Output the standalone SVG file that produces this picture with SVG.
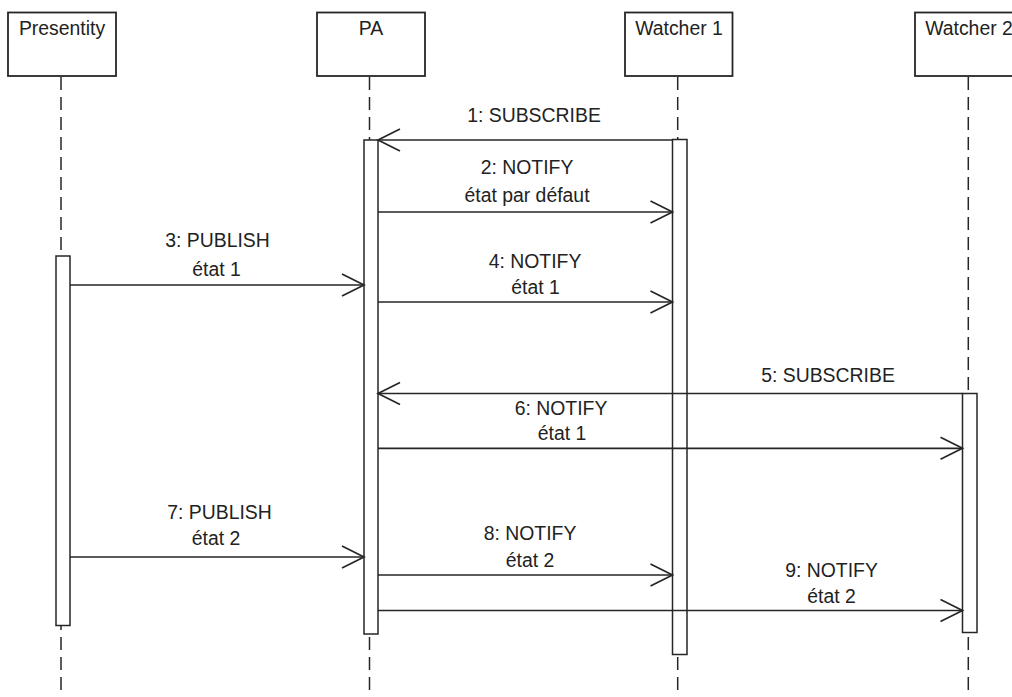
<svg xmlns="http://www.w3.org/2000/svg" width="1012" height="697" viewBox="0 0 1012 697">
<style>
  .box { fill: #ffffff; stroke: #262626; stroke-width: 1.8; }
  .act { fill: #ffffff; stroke: #262626; stroke-width: 1.5; }
  .life { stroke: #262626; stroke-width: 1.5; stroke-dasharray: 13 7; fill: none; }
  .msg { stroke: #262626; stroke-width: 1.7; fill: none; }
  .head { stroke: #262626; stroke-width: 1.7; fill: none; }
  text { font-family: "Liberation Sans", Arial, sans-serif; font-size: 19.4px; fill: #222222; text-anchor: middle; }
</style>
<rect x="0" y="0" width="1012" height="697" fill="#ffffff"/>

<g id="presentity">
  <line class="life" x1="61" y1="77" x2="61" y2="697"/>
  <rect class="box" x="8" y="12.5" width="108" height="63.5"/>
  <text x="62" y="34.5">Presentity</text>
  <rect class="act" x="56" y="256" width="14" height="369.5"/>
</g>

<g id="pa">
  <line class="life" x1="369.5" y1="77" x2="369.5" y2="697"/>
  <rect class="box" x="317" y="12.5" width="108" height="63.5"/>
  <text x="371" y="34.5">PA</text>
  <rect class="act" x="364" y="140" width="14" height="494"/>
</g>

<g id="watcher1">
  <line class="life" x1="677.7" y1="77" x2="677.7" y2="697"/>
  <rect class="box" x="625" y="12.5" width="107.5" height="63.5"/>
  <text x="679" y="34.5">Watcher 1</text>
  <rect class="act" x="672.5" y="139.5" width="14.5" height="515"/>
</g>

<g id="watcher2">
  <line class="life" x1="968.3" y1="77" x2="968.3" y2="697"/>
  <rect class="box" x="915" y="12.5" width="108" height="63.5"/>
  <text x="969" y="34.5">Watcher 2</text>
  <rect class="act" x="962.5" y="393.5" width="14.5" height="239"/>
</g>

<g id="connectors">
  <!-- 1: SUBSCRIBE -->
  <g id="m1">
    <line class="msg" x1="672.5" y1="140" x2="378" y2="140"/>
    <polyline class="head" points="400,129 378,140 400,151"/>
    <text x="534" y="122">1: SUBSCRIBE</text>
  </g>
  <!-- 2: NOTIFY -->
  <g id="m2">
    <line class="msg" x1="378" y1="212" x2="672.5" y2="212"/>
    <polyline class="head" points="650.5,201 672.5,212 650.5,223"/>
    <text x="527" y="174.3">2: NOTIFY</text>
    <text x="527" y="201.7">état par défaut</text>
  </g>
  <!-- 3: PUBLISH -->
  <g id="m3">
    <line class="msg" x1="70" y1="285" x2="364" y2="285"/>
    <polyline class="head" points="342,274 364,285 342,296"/>
    <text x="217.5" y="247.3">3: PUBLISH</text>
    <text x="216.5" y="275.7">état 1</text>
  </g>
  <!-- 4: NOTIFY -->
  <g id="m4">
    <line class="msg" x1="378" y1="302" x2="672.5" y2="302"/>
    <polyline class="head" points="650.5,291 672.5,302 650.5,313"/>
    <text x="535" y="267.7">4: NOTIFY</text>
    <text x="535.5" y="294">état 1</text>
  </g>
  <!-- 5: SUBSCRIBE -->
  <g id="m5">
    <line class="msg" x1="962.5" y1="393.5" x2="378" y2="393.5"/>
    <polyline class="head" points="400,382.5 378,393.5 400,404.5"/>
    <text x="828" y="381.7">5: SUBSCRIBE</text>
  </g>
  <!-- 6: NOTIFY -->
  <g id="m6">
    <line class="msg" x1="378" y1="448.3" x2="962.5" y2="448.3"/>
    <polyline class="head" points="940.5,437.3 962.5,448.3 940.5,459.3"/>
    <text x="561" y="415">6: NOTIFY</text>
    <text x="562" y="440">état 1</text>
  </g>
  <!-- 7: PUBLISH -->
  <g id="m7">
    <line class="msg" x1="70" y1="557" x2="364" y2="557"/>
    <polyline class="head" points="342,546 364,557 342,568"/>
    <text x="219.5" y="519.3">7: PUBLISH</text>
    <text x="216" y="545">état 2</text>
  </g>
  <!-- 8: NOTIFY -->
  <g id="m8">
    <line class="msg" x1="378" y1="575" x2="672.5" y2="575"/>
    <polyline class="head" points="650.5,564 672.5,575 650.5,586"/>
    <text x="530" y="540">8: NOTIFY</text>
    <text x="530" y="567.3">état 2</text>
  </g>
  <!-- 9: NOTIFY -->
  <g id="m9">
    <line class="msg" x1="378" y1="610.5" x2="962.5" y2="610.5"/>
    <polyline class="head" points="940.5,599.5 962.5,610.5 940.5,621.5"/>
    <text x="831.5" y="577.3">9: NOTIFY</text>
    <text x="831.5" y="603.3">état 2</text>
  </g>
</g>
</svg>
